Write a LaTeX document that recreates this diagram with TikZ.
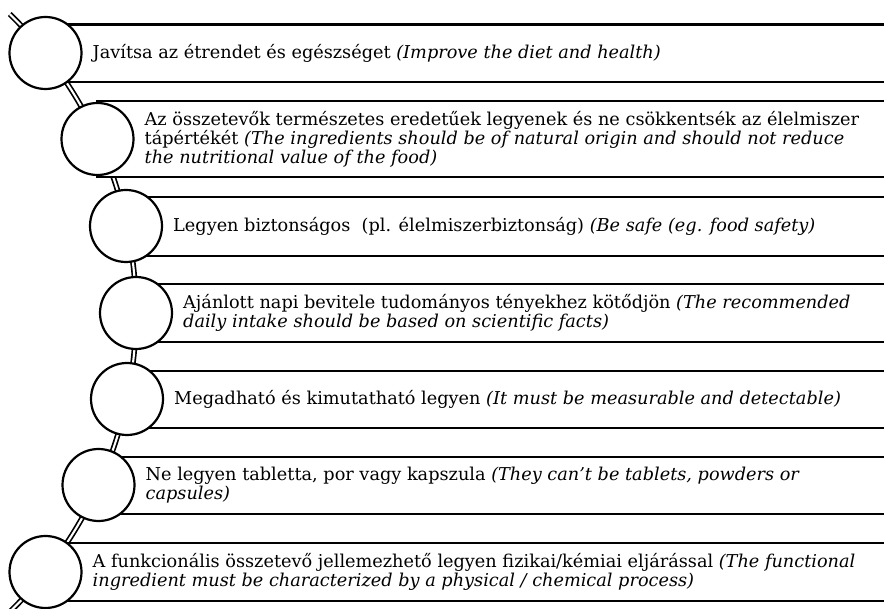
\documentclass[tikz,border=0pt]{standalone}
\usepackage{fontspec}
\setmainfont{DejaVu Serif}
\begin{document}
\begin{tikzpicture}[x=1pt,y=-1pt,
  rowbox/.style={draw=black, line width=2.6pt, fill=white},
  dot/.style={circle, draw=black, line width=2.2pt, fill=white, minimum size=72pt, inner sep=0pt},
  lab/.style={anchor=west, align=left, inner sep=0pt, font=\fontsize{17.7}{18.8}\selectfont},
  spine/.style={draw=black, double=white, line width=1.7pt, double distance=2.1pt}]
\useasboundingbox (0,0) rectangle (884,609);
\clip (0,0) rectangle (884,609);
% spine arc
\coordinate (arccentre) at (-281,313);
\draw[spine] (arccentre) ++(-45.8:417) arc[start angle=-45.8, end angle=48, radius=417];
% rows
\foreach \i/\cx/\cy/\top/\bot in {1/45.5/53/24.5/82, 2/97.5/139/101/177, 3/126/226/197/256, 4/136/313/284/342, 5/127/399/371/428, 6/98.5/485/457/514, 7/45.5/572/543/601}{
  \path[rowbox] (\cx,\top) rectangle (890,\bot);
  \node[dot] (c\i) at (\cx,\cy) {};
  \coordinate (p\i) at (\cx+47,\cy);
}
\node[lab] (t1) at (p1) {Javítsa az étrendet és egészséget \textit{(Improve the diet and health)}};
\node[lab] (t2) at (p2) {Az összetevők természetes eredetűek legyenek és ne csökkentsék az élelmiszer\\tápértékét \textit{(The ingredients should be of natural origin and should not reduce}\\\textit{the nutritional value of the food)}};
\node[lab] (t3) at (p3) {Legyen biztonságos~~(pl. élelmiszerbiztonság) \textit{(Be safe (eg. food safety)}};
\node[lab] (t4) at (p4) {Ajánlott napi bevitele tudományos tényekhez kötődjön \textit{(The recommended}\\\textit{daily intake should be based on scientific facts)}};
\node[lab] (t5) at (p5) {Megadható és kimutatható legyen \textit{(It must be measurable and detectable)}};
\node[lab] (t6) at (p6) {Ne legyen tabletta, por vagy kapszula \textit{(They can't be tablets, powders or}\\\textit{capsules)}};
\node[lab] (t7) at (p7) {A funkcionális összetevő jellemezhető legyen fizikai/kémiai eljárással \textit{(The functional}\\\textit{ingredient must be characterized by a physical / chemical process)}};
\end{tikzpicture}
\end{document}
